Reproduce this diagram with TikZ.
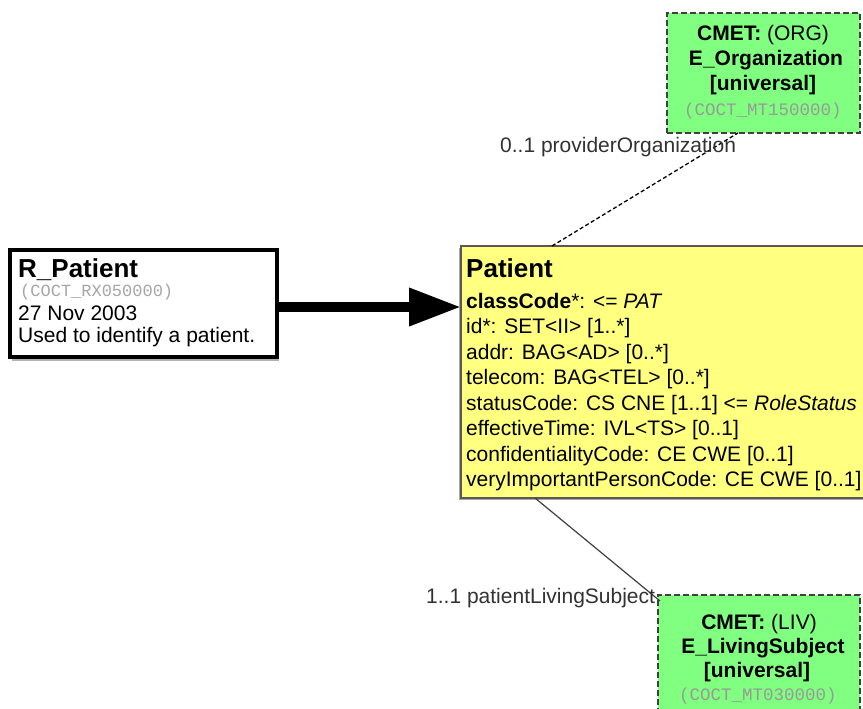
\documentclass[tikz,border=0pt]{standalone}
\usepackage{fontspec}
\setmainfont{Liberation Sans}
\newfontfamily\monof{Liberation Mono}
\usetikzlibrary{arrows.meta,calc}
\definecolor{patyellow}{RGB}{255,255,128}
\definecolor{cmetgreen}{RGB}{128,255,128}
\definecolor{labelgray}{RGB}{50,50,50}
\tikzset{
  box/.style={anchor=north west, inner sep=0pt, outer sep=0pt},
  rimbox/.style={box, draw=black, line width=4pt, fill=white},
  classbox/.style={box, draw=black!65, line width=2pt, fill=patyellow},
  cmetbox/.style={box, draw=black!75, line width=2pt, dash pattern=on 6pt off 3pt, fill=cmetgreen},
  txt/.style={anchor=base west, inner sep=0pt, font=\fontsize{21}{25}\selectfont},
  ttl/.style={anchor=base west, inner sep=0pt, font=\fontsize{26}{30}\selectfont\bfseries},
  mono/.style={anchor=base west, inner sep=0pt, text=black!35, font=\fontsize{17}{20}\selectfont\monof},
  ctxt/.style={anchor=base, inner sep=0pt, font=\fontsize{21}{25}\selectfont},
  cmono/.style={anchor=base, inner sep=0pt, text=black!40, font=\fontsize{17.5}{20}\selectfont\monof},
  lbl/.style={anchor=base west, inner sep=0pt, text=labelgray, font=\fontsize{21}{25}\selectfont},
}
\begin{document}
\begin{tikzpicture}[x=1pt,y=-1pt]
\useasboundingbox (0,0) rectangle (863,709);
\clip (0,0) rectangle (863,709);
\fill[white] (0,0) rectangle (863,709);

% connector end points
\coordinate (orgfoot) at (738,133);
\coordinate (patfoot) at (552,246);
\coordinate (livfoot) at (660,601);
\coordinate (patbase) at (535,498);

% R_Patient box
\fill[black!30] (12,253) rectangle (279,361);
\node[rimbox, minimum width=267pt, minimum height=107pt] (rpat) at (10,250) {};
\node[ttl] (rpat1) at (18,277) {R\_Patient};
\node[mono] (rpat2) at (20,296) {(COCT\_RX050000)};
\node[txt] (rpat3) at (18,320) {27 Nov 2003};
\node[txt] (rpat4) at (18,342) {Used to identify a patient.};

% Patient box
\fill[black!35] (459,248) rectangle (900,500);
\node[classbox, minimum width=440pt, minimum height=252pt] (pat) at (461,246) {};
\node[ttl] (pat0) at (466,277) {Patient};
\node[txt] (pat1) at (466,308) {\textbf{classCode}*: <= \textit{PAT}};
\node[txt] (pat2) at (466,333.5) {id*: SET<II> [1..*]};
\node[txt] (pat3) at (466,359) {addr: BAG<AD> [0..*]};
\node[txt] (pat4) at (466,384.5) {telecom: BAG<TEL> [0..*]};
\node[txt] (pat5) at (466,410) {statusCode: CS CNE [1..1] <= \textit{RoleStatus}};
\node[txt] (pat6) at (466,435.5) {effectiveTime: IVL<TS> [0..1]};
\node[txt] (pat7) at (466,461) {confidentialityCode: CE CWE [0..1]};
\node[txt] (pat8) at (466,486.5) {veryImportantPersonCode: CE CWE [0..1]};

% CMET ORG box
\node[cmetbox, minimum width=193pt, minimum height=120pt] (org) at (667,13) {};
\node[ctxt] (org1) at (763,41) {\textbf{CMET:} (ORG)};
\node[ctxt] (org2) at (766,66) {\bfseries E\_Organization};
\node[ctxt] (org3) at (763,91) {\bfseries [universal]};
\node[cmono] (org4) at (763,116) {(COCT\_MT150000)};

% CMET LIV box
\node[cmetbox, minimum width=202pt, minimum height=140pt] (liv) at (658,595) {};
\node[ctxt] (liv1) at (759,629) {\textbf{CMET:} (LIV)};
\node[ctxt] (liv2) at (763,653) {\bfseries E\_LivingSubject};
\node[ctxt] (liv3) at (757,677) {\bfseries [universal]};
\node[cmono] (liv4) at (758,700) {(COCT\_MT030000)};

% connectors
\draw[line width=1.3pt, dash pattern=on 4pt off 2.5pt] (patfoot) -- (orgfoot);
\draw[line width=1.2pt, black!75] (patbase) -- (livfoot);
\draw[line width=10pt, -{Triangle[length=52pt,width=36pt]}] (rpat.east |- 0,307) -- (pat.west |- 0,307);

% labels
\node[lbl] (lab1) at (500,152) {0..1 providerOrganization};
\node[lbl] (lab2) at (426,603) {1..1 patientLivingSubject};
\end{tikzpicture}
\end{document}
